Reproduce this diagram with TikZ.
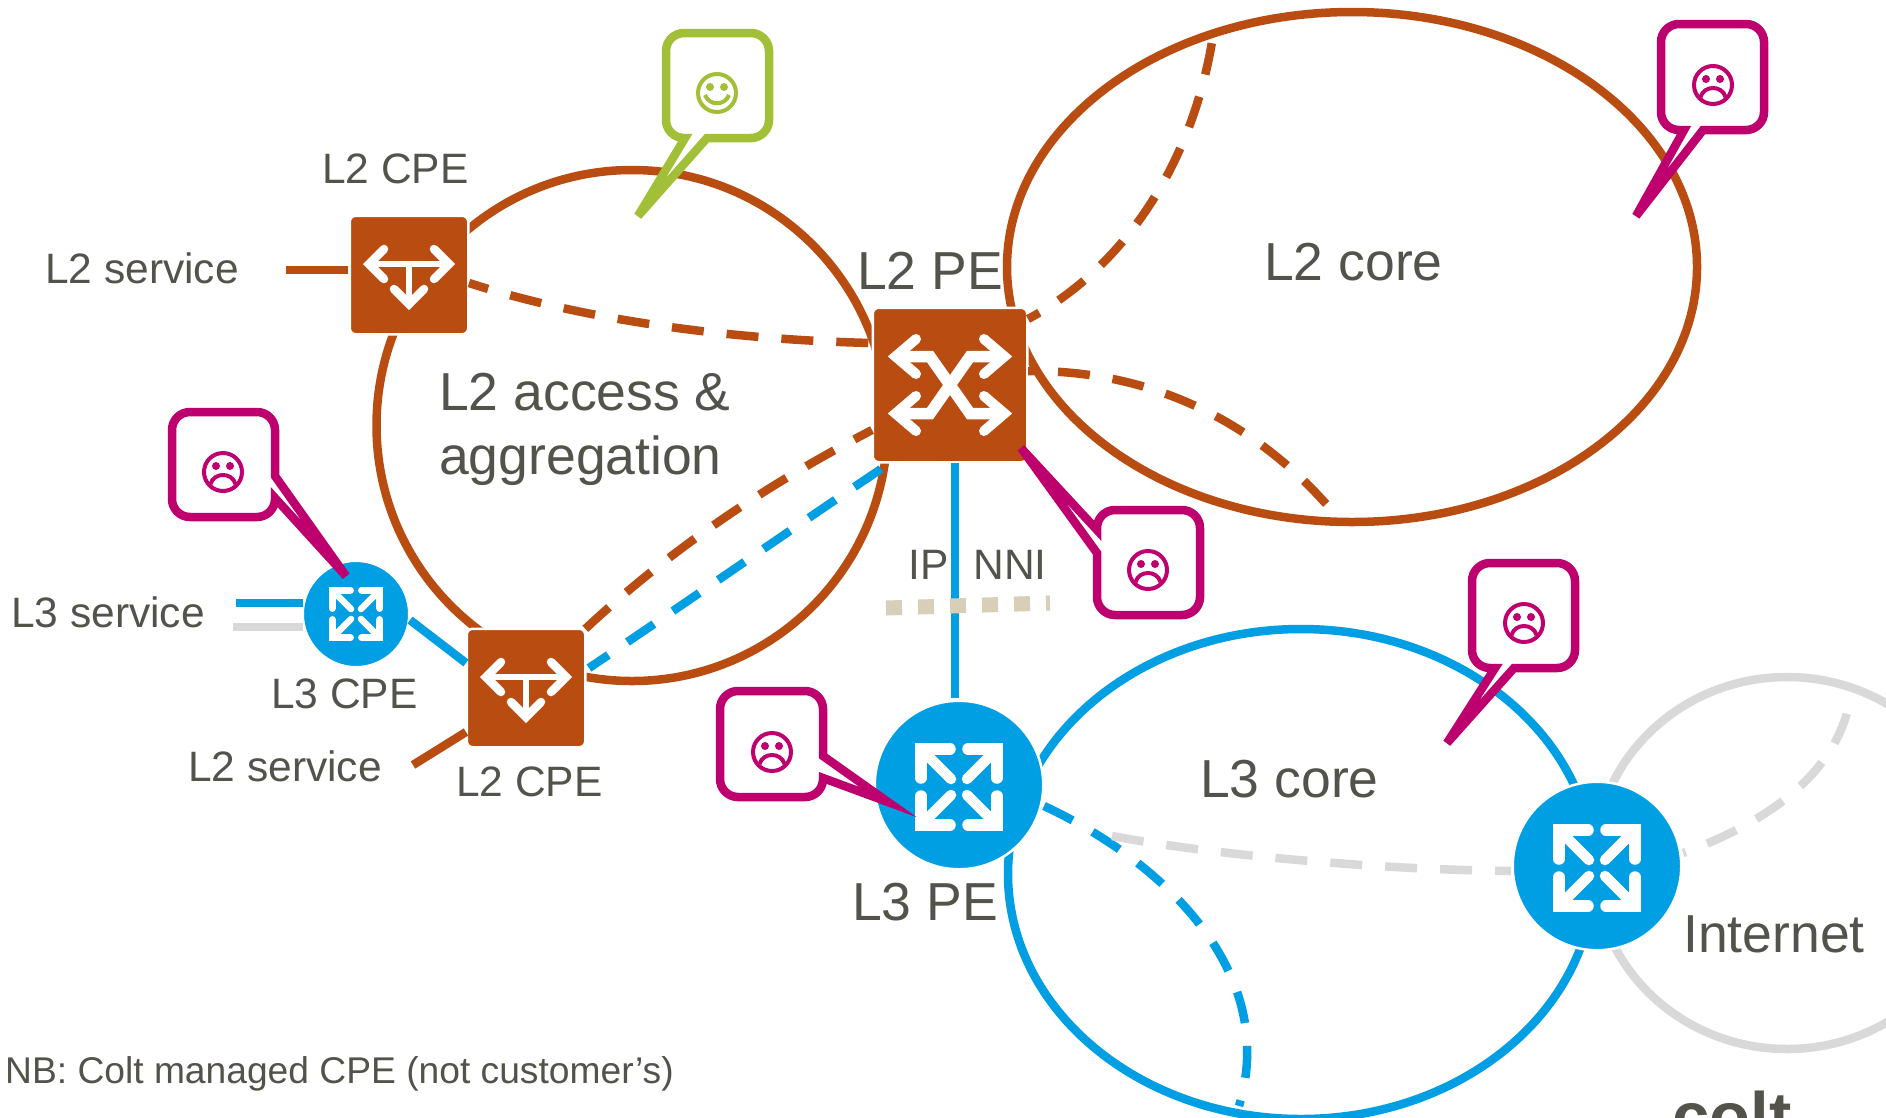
\documentclass[tikz,border=0pt]{standalone}
\usepackage{fontspec}
\setmainfont{Liberation Sans}
\definecolor{orng}{HTML}{B94C11}
\definecolor{blu}{HTML}{009FE3}
\definecolor{gry}{HTML}{D9D9D9}
\definecolor{beige}{HTML}{D7CFB8}
\definecolor{mag}{HTML}{BE006E}
\definecolor{grn}{HTML}{A2C037}
\definecolor{txt}{HTML}{53534B}
\tikzset{
  orangeline/.style={draw=orng,line width=8.5pt},
  blueline/.style={draw=blu,line width=8.5pt},
  grayline/.style={draw=gry,line width=8.5pt},
  dashA/.style={dash pattern=on 32pt off 23pt,dash phase=#1},
  dashA/.default=0pt,
  squarenode/.style={rectangle,rounded corners=6pt,fill=orng,draw=white,line width=2.5pt,inner sep=0pt,minimum size=#1},
  roundnode/.style={circle,fill=blu,draw=white,line width=2.5pt,inner sep=0pt,minimum size=#1},
  lab/.style={text=txt,inner sep=0pt,anchor=base west},
  big/.style={lab,font=\fontsize{53.5}{64}\selectfont},
  small/.style={lab,font=\fontsize{42.5}{50}\selectfont},
  callout/.style={draw=#1,fill=white,line width=8.5pt,line join=miter,miter limit=4},
  facering/.style={draw=#1,line width=4pt},
  icon/.style={draw=white,line cap=round,line join=miter},
}
\newcommand{\cpeicon}[1]{%
  \begin{scope}[shift={(#1)}]
    \draw[icon,line width=8.5pt] (-25,-26) -- (-40,-11) -- (-25,4);
    \draw[icon,line width=8.5pt] (25,-26) -- (40,-11) -- (25,4);
    \draw[icon,line width=8.5pt] (-15,14) -- (0,29) -- (15,14);
    \draw[icon,line width=6.5pt,line cap=butt] (-40,-11) -- (40,-11) (0,-11) -- (0,29);
  \end{scope}}
\newcommand{\peicon}[1]{%
  \begin{scope}[shift={(#1)}]
    \foreach \sx/\sy in {1/1,1/-1,-1/1,-1/-1}{
      \draw[icon,line width=10pt] (\sx*34,\sy*11) -- (\sx*54.5,\sy*28.5) -- (\sx*34,\sy*46);
    }
    \draw[icon,line width=11.5pt,line cap=butt] (-54.5,-28.5) -- (-20,-28.5) -- (20,28.5) -- (54.5,28.5);
    \draw[icon,line width=11.5pt,line cap=butt] (-54.5,28.5) -- (-20,28.5) -- (20,-28.5) -- (54.5,-28.5);
  \end{scope}}
\newcommand{\routericon}[2]{%
  \begin{scope}[shift={(#1)}]
    \foreach \sx/\sy in {1/1,1/-1,-1/1,-1/-1}{
      \draw[icon,line width=#2*11.5pt] (\sx*#2*9,\sy*#2*38) -- (\sx*#2*38,\sy*#2*38) -- (\sx*#2*38,\sy*#2*9);
      \draw[icon,line width=#2*10.5pt] (\sx*#2*8,\sy*#2*8) -- (\sx*#2*36,\sy*#2*36);
    }
  \end{scope}}
\newcommand{\sadface}[1]{%
  \begin{scope}[shift={(#1)}]
    \draw[facering=mag] (0,0) circle[radius=19pt];
    \fill[mag] (-7,-6) circle[radius=4pt] (7,-6) circle[radius=4pt];
    \draw[mag,line width=4pt] (-12.5,12) .. controls (-9,0) and (9,0) .. (12.5,12);
  \end{scope}}
\newcommand{\happyface}[1]{%
  \begin{scope}[shift={(#1)}]
    \draw[facering=grn] (0,0) circle[radius=19pt];
    \fill[grn] (-7,-6) circle[radius=4pt] (7,-6) circle[radius=4pt];
    \draw[grn,line width=4pt] (-12,2) .. controls (-8,13) and (8,13) .. (12,2);
  \end{scope}}
\begin{document}
\begin{tikzpicture}[x=1pt,y=-1pt]
\useasboundingbox (0,0) rectangle (1886,1117);
\clip (0,0) rectangle (1886,1117);
\fill[white] (0,0) rectangle (1886,1117);
% regions
\draw[orangeline] (632,425.5) circle[radius=255.5pt];
\draw[orangeline] (1352,267) ellipse[x radius=345pt,y radius=255pt];
\draw[blueline] (1301,874) ellipse[x radius=293pt,y radius=245pt];
\draw[grayline] (1787,863) ellipse[x radius=193pt,y radius=186pt];
% nodes (white rim cuts the lines under them)
\node[squarenode=118.5pt] (cpea) at (409,275) {};
\node[squarenode=118.5pt] (cpeb) at (526,688) {};
\node[squarenode=154.5pt] (pe) at (950,385) {};
\node[roundnode=106.5pt] (lcpe) at (356,614) {};
\node[roundnode=168.5pt] (lpe) at (959,785) {};
\node[roundnode=168.5pt] (rtr) at (1597,866) {};
\coordinate (svcA) at (286,270);
\coordinate (svcB) at (413,765);
\coordinate (svcC) at (236,603);
\coordinate (svcD) at (233,627);
\coordinate (coreTop) at (1212,42);
\coordinate (coreBot) at (1334,513);
\coordinate (lcoreBot) at (1239,1106);
\coordinate (grayStart) at (1112,836);
\coordinate (inetEnd) at (1848,709);
\coordinate (nniA) at (886,608);
\coordinate (nniB) at (1050,603);
% connectors
\draw[orangeline] (svcA) -- (348,270);
\draw[orangeline] (svcB) -- (466,732);
\draw[blueline] (svcC) -- (303,603);
\draw[grayline] (svcD) -- (303,627);
\draw[blueline] (410,620) -- (466,663);
\draw[blueline] (955,463) -- (955,698);
\draw[orangeline,dashA=12pt] (469,283) .. controls (590,322) and (740,340) .. (872,343);
\draw[orangeline,dashA=19pt] (1028,319) .. controls (1120,270) and (1190,170) .. (coreTop);
\draw[orangeline,dashA=25pt] (1028,371) .. controls (1150,370) and (1255,420) .. (coreBot);
\draw[orangeline,dashA=12pt] (872,430) .. controls (780,478) and (680,540) .. (583,631);
\draw[blueline,dashA] (881,469) .. controls (790,530) and (690,600) .. (589,668);
\draw[blueline,dashA] (1044,806) .. controls (1160,860) and (1280,970) .. (lcoreBot);
\draw[grayline,dashA] (grayStart) .. controls (1230,858) and (1400,870) .. (1511,871);
\draw[grayline,dashA=29pt] (1683,853) .. controls (1760,825) and (1830,780) .. (inetEnd);
\draw[draw=beige,line width=15pt,dash pattern=on 16pt off 16pt] (nniA) -- (nniB);
% icons
\cpeicon{cpea}
\cpeicon{cpeb}
\peicon{pe}
\routericon{lcpe}{0.625}
\routericon{959,787}{1}
\routericon{1597,868}{1}
% callouts
\draw[callout=grn] (707,138) [rounded corners=18pt] -- (769,138) -- (769,33) -- (666,33) -- (666,75) [sharp corners] -- (666,120) .. controls (666,130) and (674,138) .. (684,138) -- (685,138) -- (638,216) -- cycle;
\draw[callout=mag] (1703,130) [rounded corners=18pt] -- (1764,130) -- (1764,24) -- (1661,24) -- (1661,70) [sharp corners] -- (1661,112) .. controls (1661,122) and (1669,130) .. (1679,130) -- (1684,130) -- (1636,216) -- cycle;
\draw[callout=mag] (1097,530) [rounded corners=18pt] -- (1097,510) -- (1200,510) -- (1200,615) -- (1097,615) -- (1097,579) [sharp corners] -- (1097,553) -- (1021,448) -- cycle;
\draw[callout=mag] (275,498) [rounded corners=18pt] -- (275,517) -- (172,517) -- (172,412) -- (275,412) -- (275,450) [sharp corners] -- (275,476) -- (346,576) -- cycle;
\draw[callout=mag,miter limit=20] (823,778) [rounded corners=18pt] -- (823,797) -- (720,797) -- (720,691) -- (823,691) -- (823,728) [sharp corners] -- (823,756) -- (888,802) -- cycle;
\draw[callout=mag] (1514,668) [rounded corners=18pt] -- (1575,668) -- (1575,563) -- (1472,563) -- (1472,610) [sharp corners] -- (1472,650) .. controls (1472,660) and (1480,668) .. (1490,668) -- (1495,668) -- (1447,743) -- cycle;
\happyface{717,93}
\sadface{1713,85}
\sadface{1148,570}
\sadface{223,472}
\sadface{772,752}
\sadface{1524,623}
% labels
\node[big] (l2core) at (1264,280) {L2 core};
\node[big] (l3core) at (1200,797) {L3 core};
\node[big] (l2pe) at (857,289) {L2 PE};
\node[big] (l3pe) at (852,920) {L3 PE};
\node[big] (inet) at (1683,952) {Internet};
\node[big] (acc) at (439,410) {L2 access \&};
\node[big] (agg) at (439,474) {aggregation};
\node[small] (cpelabA) at (322,183) {L2 CPE};
\node[small] (cpelabB) at (456,796) {L2 CPE};
\node[small] (lcpelab) at (271,708) {L3 CPE};
\node[small] (svclabA) at (45,283) {L2 service};
\node[small] (svclabB) at (188,781) {L2 service};
\node[small] (svclabC) at (11,627) {L3 service};
\node[small] (nnilab) at (908,579) {IP\hspace{25pt}NNI};
\node[lab,font=\fontsize{37.2}{44}\selectfont] (nb) at (5,1083) {NB: Colt managed CPE (not customer’s)};
\node[lab,font=\fontsize{67}{80}\selectfont\bfseries] (logo) at (1672,1139) {colt};
\end{tikzpicture}
\end{document}
